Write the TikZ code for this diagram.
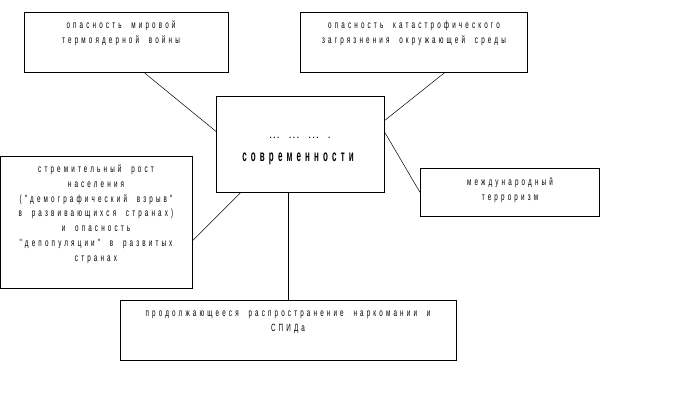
\documentclass[tikz,border=0pt]{standalone}
\usepackage{fontspec}
\newfontfamily\rf[FakeStretch=0.6,LetterSpace=30,WordSpace=2.0]{Liberation Sans}
\newfontfamily\rft[FakeStretch=0.5,LetterSpace=26]{Liberation Sans Bold}
\newfontfamily\rfd[LetterSpace=20,WordSpace=2.2]{Liberation Sans Bold}
\begin{document}
\begin{tikzpicture}[x=1pt,y=-1pt,
  box/.style={draw,line width=0.8pt,rectangle,inner sep=0pt,anchor=north west},
  txt/.style={anchor=north,inner sep=0pt,align=center,font=\rf\fontsize{10.5}{14.8}\selectfont},
  conn/.style={line width=0.5pt}]
\useasboundingbox (0,0) rectangle (684,409);
\node[box,minimum width=204,minimum height=60] (a) at (24,12) {};
\node[box,minimum width=227,minimum height=60] (b) at (300,12) {};
\node[box,minimum width=168,minimum height=96] (c) at (216,96) {};
\node[box,minimum width=192,minimum height=132] (d) at (0,156) {};
\node[box,minimum width=179,minimum height=48] (e) at (420,168) {};
\node[box,minimum width=336,minimum height=60] (f) at (120,300) {};
\node[txt] (at) at (121,21) {опасность мировой\\термоядерной войны};
\node[txt] (bt) at (414,21) {опасность катастрофического\\загрязнения окружающей среды};
\node[txt,font=\rfd\fontsize{8}{12}\selectfont] (ct1) at (300,137) {... ... ... .};
\node[txt,font=\rft\fontsize{16}{18}\selectfont] (ct2) at (298,153) {современности};
\node[txt] (dt) at (96,164.5) {стремительный рост\\населения\\("демографический взрыв"\\в развивающихся странах)\\и опасность\\"депопуляции" в развитых\\странах};
\node[txt] (et) at (510,177.5) {международный\\терроризм};
\node[txt] (ft) at (288,310.5) {продолжающееся распространение наркомании и\\СПИДа};
\draw[conn] ([xshift=18]a.south) -- ([yshift=13]c.west);
\draw[conn] ([xshift=30.5]b.south) -- ([yshift=24]c.east);
\draw[conn] ([yshift=12]c.east) -- (e.west);
\draw[conn] ([xshift=-60]c.south) -- ([yshift=-18]d.east);
\draw[conn] (c.south -| f.north) -- (f.north);
\end{tikzpicture}
\end{document}
